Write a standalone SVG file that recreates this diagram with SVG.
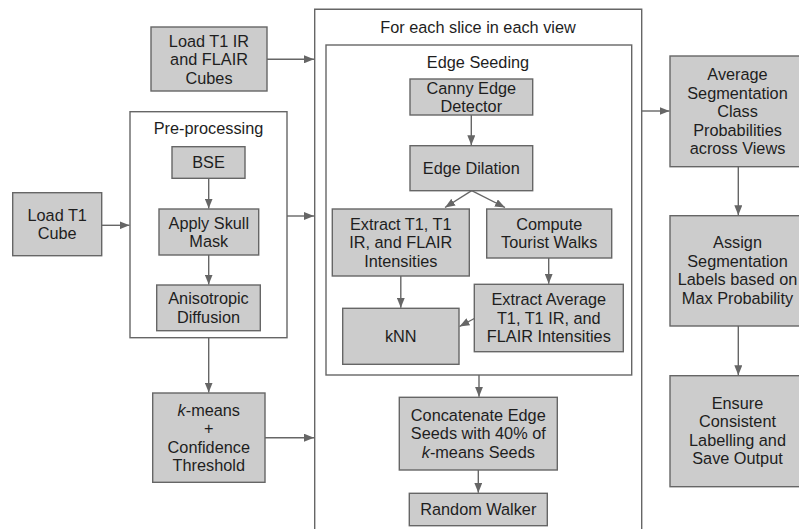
<svg xmlns="http://www.w3.org/2000/svg" width="799" height="529" viewBox="0 0 799 529">
<style>
.box{fill:#cccccc;stroke:#666666;stroke-width:1.4}
.frame{fill:none;stroke:#666666;stroke-width:1.4}
.t{font-family:"Liberation Sans",Arial,sans-serif;font-size:16.3px;fill:#1e1e1e;text-anchor:middle}
.c{fill:none;stroke:#666666;stroke-width:1.4;marker-end:url(#ah)}
</style>
<defs>
<marker id="ah" markerUnits="userSpaceOnUse" markerWidth="10" markerHeight="8" refX="10" refY="4" orient="auto">
<path d="M0,0 L10,4 L0,8 z" fill="#666666"/>
</marker>
</defs>
<rect width="799" height="529" fill="#ffffff"/>

<g id="slice-loop">
<path class="frame" d="M314.7,535 V9.3 H641.7 V535"/>
<text class="t" x="478" y="33">For each slice in each view</text>
</g>
<g id="edge-seeding">
<rect class="frame" x="326" y="45" width="305.7" height="330"/>
<text class="t" x="478" y="68">Edge Seeding</text>
</g>
<g id="pre-processing">
<rect class="frame" x="130" y="111.7" width="157" height="226"/>
<text class="t" x="208.5" y="134">Pre-processing</text>
</g>

<g id="load-ir-flair">
<rect class="box" x="151" y="27" width="116" height="64"/>
<text class="t" x="209" y="46.5">Load T1 IR</text>
<text class="t" x="209" y="65">and FLAIR</text>
<text class="t" x="209" y="83.5">Cubes</text>
</g>
<g id="load-t1">
<rect class="box" x="12.7" y="192.7" width="89" height="63"/>
<text class="t" x="57.2" y="220.6">Load T1</text>
<text class="t" x="57.2" y="239.1">Cube</text>
</g>
<g id="bse">
<rect class="box" x="172" y="146.7" width="73" height="31.6"/>
<text class="t" x="208.5" y="168.2">BSE</text>
</g>
<g id="skull-mask">
<rect class="box" x="159" y="209" width="99.7" height="46"/>
<text class="t" x="208.8" y="228.5">Apply Skull</text>
<text class="t" x="208.8" y="247">Mask</text>
</g>
<g id="aniso">
<rect class="box" x="156.7" y="285" width="103.6" height="45.7"/>
<text class="t" x="208.5" y="304.3">Anisotropic</text>
<text class="t" x="208.5" y="322.8">Diffusion</text>
</g>
<g id="kmeans">
<rect class="box" x="152.7" y="393" width="112.3" height="89.3"/>
<text class="t" x="208.8" y="415.7"><tspan font-style="italic">k</tspan>-means</text>
<text class="t" x="208.8" y="434.2">+</text>
<text class="t" x="208.8" y="452.7">Confidence</text>
<text class="t" x="208.8" y="471.2">Threshold</text>
</g>

<g id="canny">
<rect class="box" x="410" y="79" width="122.7" height="36"/>
<text class="t" x="471.3" y="93.5">Canny Edge</text>
<text class="t" x="471.3" y="112">Detector</text>
</g>
<g id="dilation">
<rect class="box" x="410" y="145.7" width="122.7" height="45"/>
<text class="t" x="471.3" y="173.9">Edge Dilation</text>
</g>
<g id="extract-t1">
<rect class="box" x="332.3" y="209" width="137" height="67"/>
<text class="t" x="400.8" y="229.7">Extract T1, T1</text>
<text class="t" x="400.8" y="248.2">IR, and FLAIR</text>
<text class="t" x="400.8" y="266.7">Intensities</text>
</g>
<g id="tourist">
<rect class="box" x="486.7" y="209" width="125" height="49"/>
<text class="t" x="549.2" y="229.9">Compute</text>
<text class="t" x="549.2" y="248.4">Tourist Walks</text>
</g>
<g id="knn">
<rect class="box" x="342.7" y="308.3" width="116.3" height="56"/>
<text class="t" x="400.8" y="342">kNN</text>
</g>
<g id="extract-avg">
<rect class="box" x="474.3" y="284.3" width="149" height="67.4"/>
<text class="t" x="548.8" y="305.2">Extract Average</text>
<text class="t" x="548.8" y="323.7">T1, T1 IR, and</text>
<text class="t" x="548.8" y="342.2">FLAIR Intensities</text>
</g>
<g id="concatenate">
<rect class="box" x="399.3" y="397.3" width="158" height="72.7"/>
<text class="t" x="478.3" y="420.9">Concatenate Edge</text>
<text class="t" x="478.3" y="439.4">Seeds with 40% of</text>
<text class="t" x="478.3" y="457.9"><tspan font-style="italic">k</tspan>-means Seeds</text>
</g>
<g id="random-walker">
<rect class="box" x="409.3" y="493.3" width="138" height="32.4"/>
<text class="t" x="478.3" y="515.2">Random Walker</text>
</g>

<g id="average">
<rect class="box" x="670" y="56" width="140" height="110.7"/>
<text class="t" x="737.5" y="80">Average</text>
<text class="t" x="737.5" y="98.5">Segmentation</text>
<text class="t" x="737.5" y="117">Class</text>
<text class="t" x="737.5" y="135.5">Probabilities</text>
<text class="t" x="737.5" y="154">across Views</text>
</g>
<g id="assign">
<rect class="box" x="670" y="215.7" width="140" height="110.3"/>
<text class="t" x="737.5" y="248.3">Assign</text>
<text class="t" x="737.5" y="266.8">Segmentation</text>
<text class="t" x="737.5" y="285.3">Labels based on</text>
<text class="t" x="737.5" y="303.8">Max Probability</text>
</g>
<g id="ensure">
<rect class="box" x="670" y="375.7" width="140" height="111"/>
<text class="t" x="737.5" y="408.7">Ensure</text>
<text class="t" x="737.5" y="427.2">Consistent</text>
<text class="t" x="737.5" y="445.7">Labelling and</text>
<text class="t" x="737.5" y="464.2">Save Output</text>
</g>

<g id="connectors">
<path class="c" d="M267,59.3 H314"/>
<path class="c" d="M101.7,225.3 H129.5"/>
<path class="c" d="M287,216 H314"/>
<path class="c" d="M208.7,178.3 V208.5"/>
<path class="c" d="M208.7,255 V284.5"/>
<path class="c" d="M208.7,337.7 V392.5"/>
<path class="c" d="M265,437.7 H314"/>
<path class="c" d="M471.3,115 V145.2"/>
<path class="c" d="M471.7,190.7 L445,207.5"/>
<path class="c" d="M471.7,190.7 L505,207.5"/>
<path class="c" d="M400.8,276 V307.8"/>
<path class="c" d="M548.7,258 V283.8"/>
<path class="c" d="M474.3,318.5 L459.5,326.5"/>
<path class="c" d="M479,375 V396.8"/>
<path class="c" d="M478.3,470 V492.8"/>
<path class="c" d="M641.7,111 H669.5"/>
<path class="c" d="M738.3,166.7 V215.2"/>
<path class="c" d="M738.3,326 V375.2"/>
</g>
</svg>
